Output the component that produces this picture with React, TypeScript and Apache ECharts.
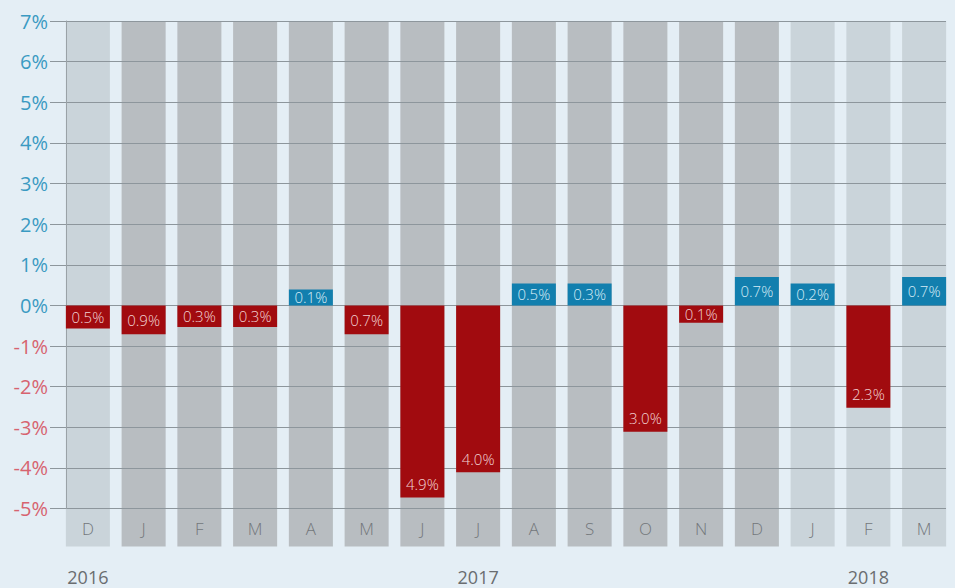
import React, { useEffect, useRef } from "react";
import * as echarts from "echarts";

const months = ["D", "J", "F", "M", "A", "M", "J", "J", "A", "S", "O", "N", "D", "J", "F", "M"];
const years = ["2016", "", "", "", "", "", "", "2017", "", "", "", "", "", "", "2018", ""];
// bar extents as drawn in the picture (percent)
const barValues = [-0.57, -0.71, -0.53, -0.53, 0.39, -0.71, -4.73, -4.11, 0.54, 0.54, -3.11, -0.43, 0.7, 0.54, -2.52, 0.7];
// printed labels
const barLabels = ["0.5%", "0.9%", "0.3%", "0.3%", "0.1%", "0.7%", "4.9%", "4.0%", "0.5%", "0.3%", "3.0%", "0.1%", "0.7%", "0.2%", "2.3%", "0.7%"];
// column shading: 0 = light, 1 = dark
const columnShade = [0, 1, 1, 1, 1, 1, 1, 1, 1, 1, 1, 1, 1, 0, 0, 0];
const yTicks = [-5, -4, -3, -2, -1, 0, 1, 2, 3, 4, 5, 6, 7];

const FONT = "'Open Sans', 'Noto Sans', sans-serif";

export default function App() {
  const ref = useRef<HTMLDivElement>(null);
  useEffect(() => {
    if (!ref.current) return;
    const chart = echarts.init(ref.current, null, { renderer: "svg" });
    const yMin = yTicks[0];
    const yMax = yTicks[yTicks.length - 1];
    const option: any = {
      animation: false,
      backgroundColor: "#e4eef5",
      grid: [
        { left: 50, right: 9, top: 21, bottom: 79.5 },
        { left: 60, right: 3, top: 21, bottom: 79.5 },
      ],
      xAxis: [
        { gridIndex: 0, type: "value", min: 0, max: 1, show: false },
        {
          gridIndex: 1,
          type: "category",
          data: months,
          axisLine: { show: false },
          axisTick: { show: false },
          axisLabel: { margin: 11, color: "#73777b", fontSize: 17, fontWeight: 300, fontFamily: FONT, interval: 0 },
          z: 4,
        },
        {
          gridIndex: 1,
          type: "category",
          data: years,
          position: "bottom",
          axisLine: { show: false },
          axisTick: { show: false },
          axisLabel: { margin: 59, color: "#6a6d70", fontSize: 18, fontFamily: FONT, interval: 0 },
        },
      ],
      yAxis: [
        {
          gridIndex: 0,
          type: "value",
          min: yMin,
          max: yMax,
          interval: 1,
          z: 2,
          axisLine: { show: false },
          axisTick: { show: false },
          splitLine: { show: true, lineStyle: { color: "#8d969c", width: 1 } },
          axisLabel: {
            margin: 2,
            fontSize: 20,
            fontFamily: FONT,
            formatter: (v: number) => `${v}%`,
            color: (v: any) => (Number(v) < 0 ? "#d7636f" : "#3a9ac2"),
          },
        },
        {
          gridIndex: 1,
          type: "value",
          min: yMin,
          max: yMax,
          interval: 1,
          z: 2,
          axisLine: { show: true, onZero: false, lineStyle: { color: "#9aa2a7", width: 1 } },
          axisTick: { show: false },
          axisLabel: { show: false },
          splitLine: { show: false },
          offset: -6,
        },
      ],
      series: [
        {
          type: "custom",
          xAxisIndex: 1,
          yAxisIndex: 1,
          z: 1,
          silent: true,
          clip: false,
          data: columnShade.map((s, i) => [i, s]),
          renderItem: (params: any, api: any) => {
            const idx = api.value(0);
            const top = api.coord([idx, yMax]);
            const bot = api.coord([idx, yMin]);
            const w = api.size([1, 0])[0] * 0.79;
            return {
              type: "rect",
              shape: { x: top[0] - w / 2, y: top[1], width: w, height: bot[1] - top[1] + 38 },
              style: { fill: api.value(1) === 0 ? "#cad4da" : "#b8bdc1" },
            };
          },
        },
        {
          type: "bar",
          xAxisIndex: 1,
          yAxisIndex: 1,
          z: 3,
          barWidth: 44,
          data: barValues.map((v, i) => {
            const neg = v < 0;
            const big = Math.abs(v) >= 1;
            return {
              value: v,
              itemStyle: { color: neg ? "#a10b0f" : "#127fae" },
              label: {
                show: true,
                position: big ? "insideBottom" : "inside",
                distance: 6,
                formatter: barLabels[i],
                color: neg ? "#f1d2d3" : "#d6ecf6",
                fontSize: 15,
                fontWeight: 300,
                fontFamily: FONT,
              },
            };
          }),
        },
      ],
    };
    chart.setOption(option);
    return () => chart.dispose();
  }, []);
  return (
    <div
      ref={ref}
      style={{ position: "absolute", left: 0, top: 0, width: 955, height: 588, background: "#e4eef5" }}
    />
  );
}
